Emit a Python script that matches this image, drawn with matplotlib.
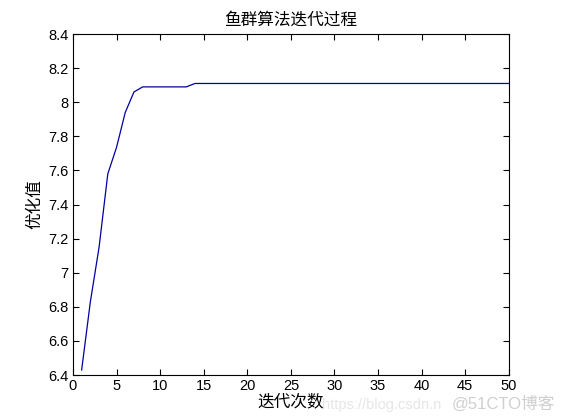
import matplotlib
matplotlib.use("Agg")
from matplotlib import pyplot as plt

plt.rcParams['font.family'] = ['Liberation Sans', 'Noto Sans CJK SC', 'DejaVu Sans']

# iteration data
iters = list(range(1, 51))
head = [6.43, 6.83, 7.15, 7.58, 7.735, 7.94, 8.06, 8.09, 8.09, 8.09, 8.09, 8.09, 8.09]
best = head + [8.11] * (50 - len(head))

xticks = list(range(0, 51, 5))
yticks = [6.4, 6.6, 6.8, 7.0, 7.2, 7.4, 7.6, 7.8, 8.0, 8.2, 8.4]
yticklabels = ['6.4', '6.6', '6.8', '7', '7.2', '7.4', '7.6', '7.8', '8', '8.2', '8.4']

cjk = ['Noto Sans CJK SC']

fig = plt.figure(figsize=(5.61, 4.2), dpi=100)
ax = fig.add_axes([0.13, 0.107, 0.777, 0.812])

ax.plot(iters, best, color='#0000a0', lw=0.9)

ax.set_xlim(0, 50)
ax.set_ylim(6.4, 8.4)
ax.set_xticks(xticks)
ax.set_yticks(yticks)
ax.set_yticklabels(yticklabels)
ax.tick_params(direction='in', top=True, right=True, labelsize=10.5, length=4, width=0.8, pad=3)
for s in ax.spines.values():
    s.set_linewidth(0.8)

ax.set_title('鱼群算法迭代过程', fontsize=12, family=cjk, pad=7)
ax.set_xlabel('迭代次数', fontsize=12, family=cjk, labelpad=0)
ax.set_ylabel('优化值', fontsize=12, family=cjk, labelpad=4)

# watermark
fig.text(0.574, 0.027, 'https://blog.csdn.n', color='#e6e6e6', fontsize=10.5)
fig.text(0.806, 0.027, '@51CTO博客', color='#cfcfcf', fontsize=12,
         family=['Liberation Sans', 'Noto Sans CJK SC'])

fig.savefig('out.png', dpi=100, facecolor='white')
